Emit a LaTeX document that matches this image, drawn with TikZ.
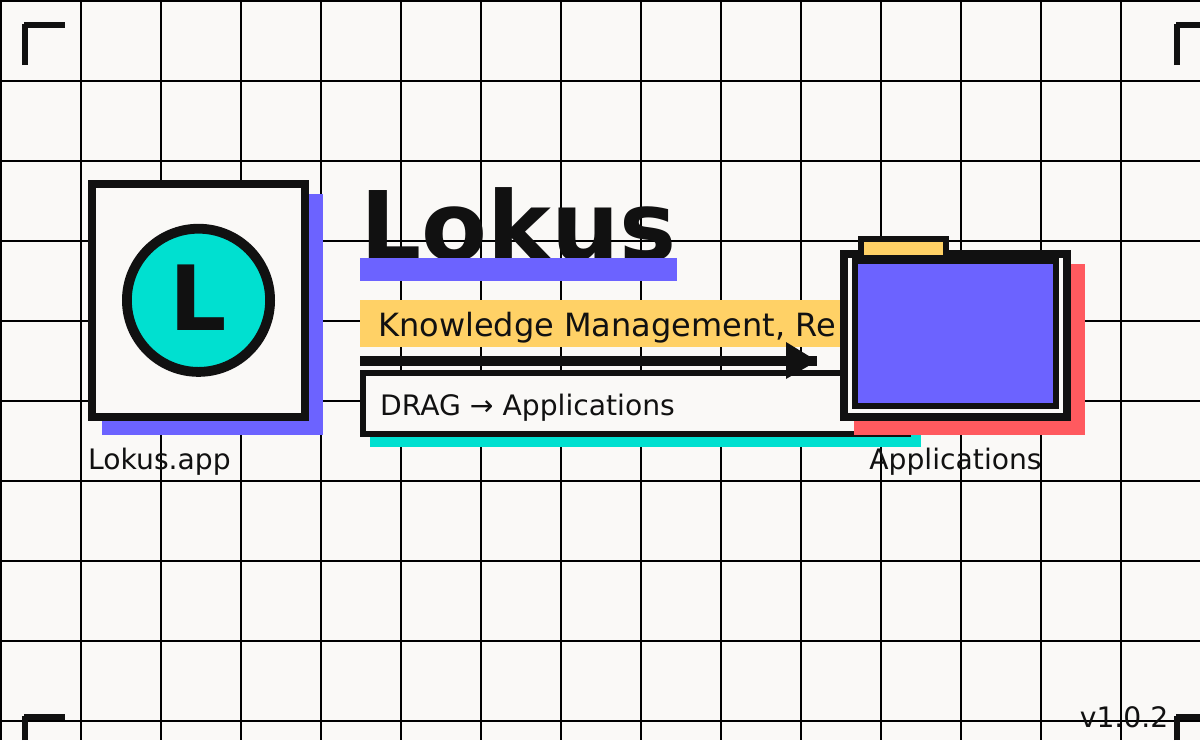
\documentclass[tikz,border=0pt]{standalone}
\usepackage{fontspec}
\setmainfont{DejaVu Sans}
\definecolor{paper}{HTML}{FAF9F7}
\definecolor{ink}{HTML}{111111}
\definecolor{violet}{HTML}{6C63FF}
\definecolor{teal}{HTML}{00E0D0}
\definecolor{sun}{HTML}{FFD166}
\definecolor{coral}{HTML}{FF5A5F}
\tikzset{
  label/.style={anchor=base west,inner sep=0pt,text=ink,font=\fontsize{28.2}{28}\selectfont},
  heavy/.style={draw=ink,line width=#1,miter limit=10},
  corner/.style={draw=ink,line width=6pt}
}

\begin{document}
\begin{tikzpicture}[x=1pt,y=-1pt]
\useasboundingbox (0,0) rectangle (1200,740);
\clip (0,0) rectangle (1200,740);
\fill[paper] (0,0) rectangle (1200,740);
% grid
\foreach \gx in {1,81,...,1121} \draw[black,line width=2pt] (\gx,0) -- (\gx,740);
\foreach \gy in {1,81,...,721} \draw[black,line width=2pt] (0,\gy) -- (1200,\gy);
% corners
\draw[corner] (25,65) -- (25,24);
\draw[corner] (24,25) -- (65,25);
\draw[corner] (1177,65) -- (1177,24);
\draw[corner] (1176,25) -- (1200,25);
\draw[corner] (25,740) -- (25,716);
\draw[corner] (24,717) -- (65,717);
\draw[corner] (1177,740) -- (1177,716);
\draw[corner] (1176,717) -- (1200,717);
% app icon
\fill[violet] (102,194) rectangle (323,435);
\draw[heavy=8pt,fill=paper] (92,184) rectangle (305,417);
\draw[heavy=9.8pt,fill=teal] (198.5,300.3) circle (71.6);
\node[anchor=base,inner sep=0pt,text=ink,font=\fontsize{90}{90}\selectfont\bfseries] (applogo) at (198.5,330) {L};
\node[label] (appname) at (88,469.3) {Lokus.app};
% title
\node[anchor=base west,inner sep=0pt,text=ink,font=\fontsize{96}{96}\selectfont\bfseries] (title) at (360,260) {Lokus};
\fill[violet] (360,258) rectangle (677,281);
% subtitle
\fill[sun] (360,300) rectangle (860,347);
\node[label,font=\fontsize{32}{32}\selectfont] (subtitle) at (378,336) {Knowledge Management, Re};
% drag box
\fill[teal] (370,380) rectangle (921,447);
\draw[heavy=6pt,fill=paper] (363,373) rectangle (908,434);
\node[label] (dragtext) at (380,415.3) {DRAG → Applications};
% arrow
\coordinate (arrowstart) at (360,361);
\coordinate (arrowend) at (817,361);
\fill[ink] (786,342) -- (arrowend) -- (786,379) -- cycle;
\draw[ink,line width=10pt] (arrowstart) -- (arrowend);
% folder
\fill[coral] (854,264) rectangle (1085,435);
\draw[heavy=8pt,fill=paper] (844,254) rectangle (1067,417);
\draw[heavy=6pt,fill=violet] (855,261) rectangle (1056,406);
\draw[heavy=6pt,fill=sun] (861,239) rectangle (946,258);
\node[label,anchor=base] (foldername) at (955.5,469.3) {Applications};
% version
\node[label,anchor=base east] (version) at (1168.5,727) {v1.0.2};
\end{tikzpicture}
\end{document}
